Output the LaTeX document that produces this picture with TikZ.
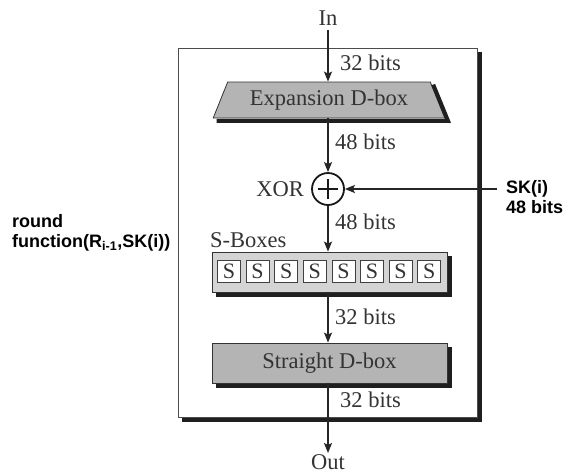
\documentclass[tikz,border=0pt]{standalone}
\usepackage{fontspec}
\setmainfont{Liberation Serif}
\newfontfamily\labelfont{Liberation Sans}
\usetikzlibrary{shapes.geometric,arrows.meta}
\definecolor{txt}{HTML}{333333}
\definecolor{boxgray}{HTML}{B4B4B4}
\definecolor{lightgray2}{HTML}{D4D4D4}
\tikzset{
  shadowline/.style={draw=black!88, line width=4pt, line join=miter, line cap=butt},
  serif/.style={font=\fontsize{22.5}{25}\selectfont, text=txt, inner sep=0pt},
  boldlbl/.style={font=\labelfont\bfseries\fontsize{18}{20}\selectfont, text=black, inner sep=0pt, align=left},
  flow/.style={draw=black!85, line width=1.6pt, -{Stealth[length=10pt,width=8pt,inset=2pt]}},
  wide/.style={minimum width=235pt, minimum height=40pt, inner sep=0pt},
  trap/.style={trapezium, trapezium stretches=true, trapezium left angle=61, trapezium right angle=61, minimum width=232pt, minimum height=36pt},
  sbox/.style={draw=black!75, line width=0.8pt, fill=white, minimum width=23pt, minimum height=22pt, inner sep=0pt, font=\fontsize{22}{22}\selectfont, text=txt},
}
\begin{document}
\begin{tikzpicture}[x=1pt,y=-1pt]
\useasboundingbox (0,0) rectangle (572,474);
% outer round box
\node[draw=black!70, line width=0.8pt, fill=white, minimum width=299pt, minimum height=369pt, inner sep=0pt] (outer) at (327.5,232.5) {};
\draw[shadowline] ([shift={(2.4,4)}]outer.north east) -- ([shift={(2.4,2.4)}]outer.south east) -- ([shift={(4,2.4)}]outer.south west);
% In / Out
\node[serif, anchor=base] (in) at (328,25) {In};
\node[serif, anchor=base] (out) at (328,469) {Out};
% expansion D-box
\node[trap, serif, draw=black!80, line width=0.8pt, fill=boxgray] (exp) at (329,100) {Expansion D-box};
\draw[shadowline] ([shift={(2.6,3)}]exp.top right corner) -- ([shift={(2.6,2.4)}]exp.bottom right corner) -- ([shift={(4,2.4)}]exp.bottom left corner);
% XOR
\node[circle, draw=black!90, line width=1.8pt, minimum size=32pt, inner sep=0pt, fill=white] (xor) at (328,189) {};
\draw[black!90, line width=1.8pt] ([yshift=-10pt]xor.center) -- ([yshift=10pt]xor.center) ([xshift=-10pt]xor.center) -- ([xshift=10pt]xor.center);
\node[serif, anchor=east] (xorlbl) at (304,189) {XOR};
% S-boxes
\node[wide, draw=black!80, line width=0.8pt, fill=lightgray2] (sboxes) at (329.5,272) {};
\draw[shadowline] ([shift={(2.4,4)}]sboxes.north east) -- ([shift={(2.4,2.4)}]sboxes.south east) -- ([shift={(4,2.4)}]sboxes.south west);
\node[serif, anchor=west] (sblbl) at (210,240) {S-Boxes};
\foreach \i in {0,...,7} {
  \node[sbox] (s\i) at (229+28.6*\i,271) {S};
}
% straight D-box
\node[wide, serif, draw=black!80, line width=0.8pt, fill=boxgray] (str) at (329.5,363) {Straight D-box};
\draw[shadowline] ([shift={(2.4,4)}]str.north east) -- ([shift={(2.4,2.4)}]str.south east) -- ([shift={(4,2.4)}]str.south west);
% coordinates
\coordinate (intop) at (328,30);
\coordinate (outend) at (328,453);
\coordinate (skstart) at (497,189);
% connectors
\draw[flow] (intop) -- (exp.north -| intop);
\draw[flow] (exp.south -| intop) -- (xor.north);
\draw[flow] (skstart) -- (xor.east);
\draw[flow] (xor.south) -- (sboxes.north -| intop);
\draw[flow] (sboxes.south -| intop) -- (str.north -| intop);
\draw[flow] (str.south -| intop) -- (outend);
% bit labels
\node[serif, anchor=west] (b1) at (340,63) {32 bits};
\node[serif, anchor=west] (b2) at (335,142) {48 bits};
\node[serif, anchor=west] (b3) at (335,222) {48 bits};
\node[serif, anchor=west] (b4) at (335,317) {32 bits};
\node[serif, anchor=west] (b5) at (340,400) {32 bits};
% side labels
\node[boldlbl, anchor=west] (sk) at (506,197) {SK(i)\\48 bits};
\node[boldlbl, anchor=west] (rf) at (12,233) {round\\function(R\textsubscript{i-1},SK(i))};
\end{tikzpicture}
\end{document}
